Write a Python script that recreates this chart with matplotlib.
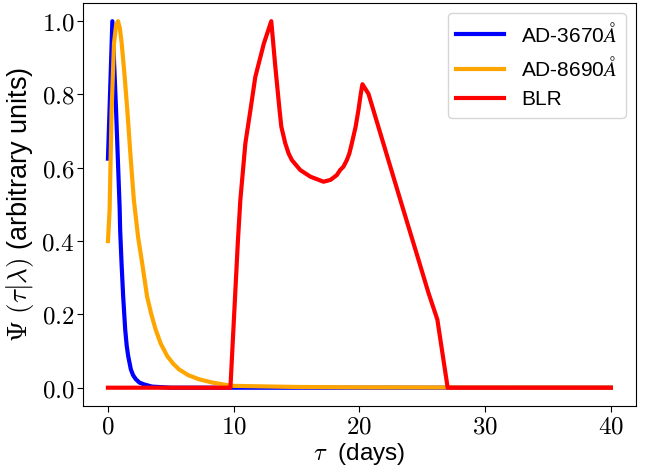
import matplotlib
matplotlib.use("Agg")
import matplotlib.pyplot as plt
from matplotlib.ticker import FuncFormatter

plt.rcParams['mathtext.fontset'] = 'cm'
plt.rcParams['font.family'] = ['Liberation Sans', 'DejaVu Sans']

# AD-3670 Angstrom transfer function
tau_blue = [0.0, 0.35, 0.63, 0.93, 0.97, 1.08, 1.21, 1.37, 1.49, 1.61, 1.82, 2.0, 2.22, 2.5, 2.87, 3.5, 5.0, 10.0, 20.0, 40.0]
psi_blue = [0.625, 1.0, 0.77, 0.49, 0.43, 0.34, 0.249, 0.159, 0.115, 0.086, 0.05, 0.034, 0.023, 0.014, 0.009, 0.003, 0.0, 0.0, 0.0, 0.0]

# AD-8690 Angstrom transfer function
tau_orange = [0.0, 0.13, 0.29, 0.48, 0.65, 0.8, 0.95, 1.09, 1.3, 1.54, 1.8, 2.06, 2.4, 2.72, 3.11, 3.45, 3.79, 4.2,
              4.72, 5.2, 5.65, 6.4, 7.24, 8.3, 9.3, 10.0, 15.0, 20.0, 30.0, 40.0]
psi_orange = [0.40, 0.485, 0.757, 0.94, 0.99, 1.0, 0.98, 0.94, 0.86, 0.757, 0.63, 0.512, 0.41, 0.34, 0.249, 0.2,
              0.159, 0.12, 0.086, 0.065, 0.05, 0.034, 0.023, 0.014, 0.008, 0.005, 0.002, 0.001, 0.0005, 0.0003]

# BLR transfer function
tau_red = [0.0, 9.74, 10.34, 10.53, 10.93, 11.33, 11.72, 12.4, 12.99, 13.3, 13.65, 13.79, 14.1, 14.37, 14.63,
           15.29, 16.09, 17.14, 17.7, 18.2, 18.47, 18.73, 19.0, 19.2, 19.4, 19.7, 19.92, 20.11, 20.24,
           20.72, 23.1, 24.7, 25.5, 26.2, 27.02, 40.0]
psi_red = [0.0, 0.0, 0.403, 0.512, 0.667, 0.757, 0.848, 0.939, 1.0, 0.88, 0.757, 0.712, 0.667, 0.639, 0.621,
           0.594, 0.576, 0.562, 0.567, 0.58, 0.594, 0.603, 0.621, 0.639, 0.667, 0.712, 0.757, 0.802, 0.828,
           0.802, 0.53, 0.349, 0.258, 0.186, 0.0, 0.0]

labels = [r'AD-3670$\AA$', r'AD-8690$\AA$', 'BLR']
colors = ['blue', 'orange', 'red']

fig = plt.figure(figsize=(6.47, 4.76), dpi=100)
ax = fig.add_axes([0.128, 0.147, 0.855, 0.847])

ax.plot(tau_blue, psi_blue, color=colors[0], lw=3, label=labels[0])
ax.plot(tau_orange, psi_orange, color=colors[1], lw=3, label=labels[1])
ax.plot(tau_red, psi_red, color=colors[2], lw=3, label=labels[2])

ax.set_xticks([0, 10, 20, 30, 40])
ax.set_yticks([0.0, 0.2, 0.4, 0.6, 0.8, 1.0])
ax.xaxis.set_major_formatter(FuncFormatter(lambda v, p: r'$%d$' % v))
ax.yaxis.set_major_formatter(FuncFormatter(lambda v, p: r'$%.1f$' % v))
ax.tick_params(labelsize=18, length=4, pad=2)

ax.set_xlabel(r'$\tau\ $ (days)', fontsize=17.5, labelpad=2)
ax.set_ylabel(r'$\Psi\ (\tau|\lambda)$ (arbitrary units)', fontsize=19.5, labelpad=4)

ax.legend(loc='upper right', fontsize=15, handlelength=2.3)

fig.savefig('out.png', dpi=100)
